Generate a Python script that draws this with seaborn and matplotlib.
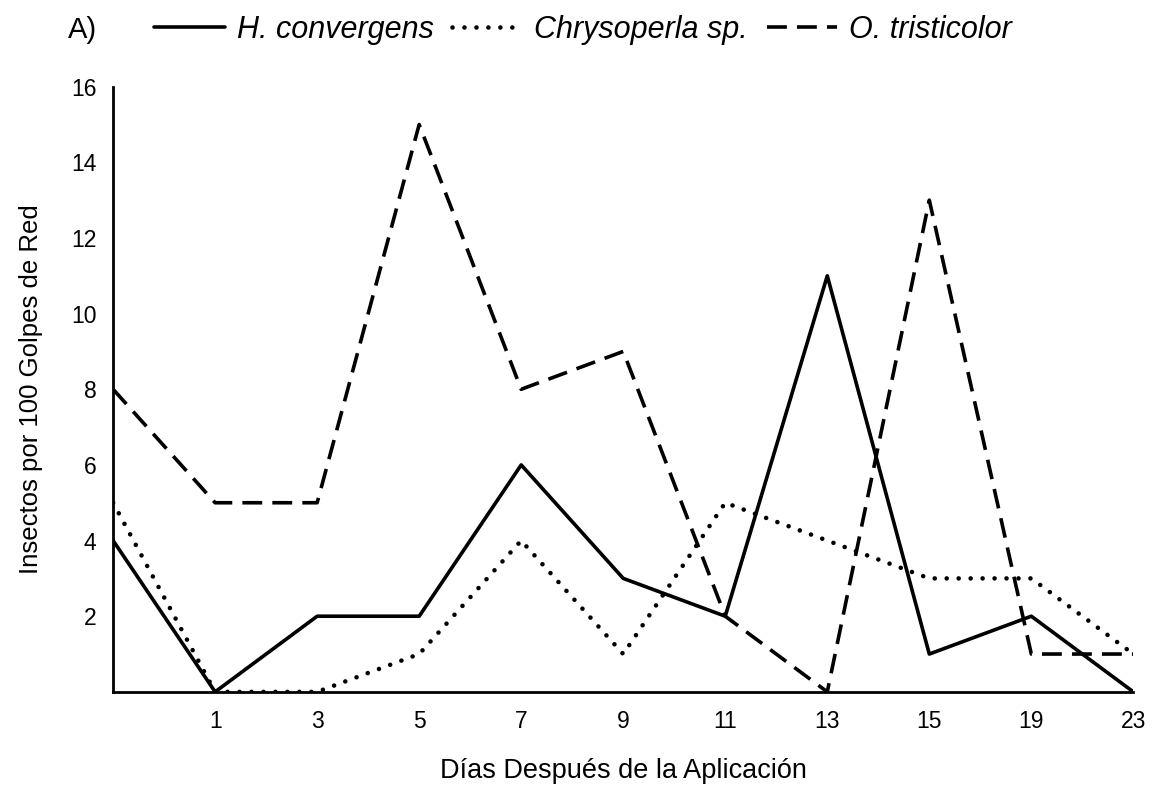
"""
Insectos por 100 golpes de red - dias despues de la aplicacion
"""
import matplotlib
matplotlib.use("Agg")
import matplotlib.pyplot as plt
import seaborn as sns
import pandas as pd

# ---------------------------------------------------------------
# Datos
# ---------------------------------------------------------------
dias = ["0", "1", "3", "5", "7", "9", "11", "13", "15", "19", "23"]
h_convergens = [4, 0, 2, 2, 6, 3, 2, 11, 1, 2, 0]
chrysoperla = [5, 0, 0, 1, 4, 1, 5, 4, 3, 3, 1]
o_tristicolor = [8, 5, 5, 15, 8, 9, 2, 0, 13, 1, 1]

series = {
    "H. convergens": h_convergens,
    "Chrysoperla sp.": chrysoperla,
    "O. tristicolor": o_tristicolor,
}
y_ticks = [2, 4, 6, 8, 10, 12, 14, 16]

sns.set_theme(style="white")
plt.rcParams["font.family"] = ["Liberation Sans", "DejaVu Sans"]
plt.rcParams["text.color"] = "black"
plt.rcParams["axes.labelcolor"] = "black"

fig = plt.figure(figsize=(11.66, 7.88), dpi=100)
ax = fig.add_axes([0.097, 0.122, 0.875, 0.768])

styles = {
    "H. convergens": dict(linestyle="-", linewidth=2.6),
    "Chrysoperla sp.": dict(linestyle=(0, (0.01, 2.6)), dash_capstyle="round",
                            linewidth=3.3),
    "O. tristicolor": dict(linestyle=(0, (5.5, 2.8)), linewidth=2.6),
}

pos = list(range(len(dias)))
for name, vals in series.items():
    df = pd.DataFrame({"pos": pos, "valor": vals})
    sns.lineplot(data=df, x="pos", y="valor", ax=ax, color="black",
                 label=name, **styles[name])

ax.set_xlim(0, len(dias) - 1)
ax.set_ylim(0, 16)
ax.set_xticks(pos[1:])
ax.set_xticklabels(dias[1:])
ax.set_yticks(y_ticks)
ax.tick_params(axis="both", length=0, labelsize=16.5, colors="black")
ax.tick_params(axis="x", pad=13)
ax.tick_params(axis="y", pad=12)

for s in ["top", "right"]:
    ax.spines[s].set_visible(False)
for s in ["left", "bottom"]:
    ax.spines[s].set_color("black")
    ax.spines[s].set_linewidth(2)

ax.set_xlabel("Días Después de la Aplicación", fontsize=19.5, labelpad=18)
ax.set_ylabel("Insectos por 100 Golpes de Red", fontsize=18.5, labelpad=20)

# Leyenda superior
handles, labels = ax.get_legend_handles_labels()
ax.get_legend().remove()
leg = fig.legend(handles, labels, loc="center", bbox_to_anchor=(0.5, 0.962),
                 ncol=3, frameon=False, fontsize=22, handlelength=2.3,
                 handletextpad=0.4, columnspacing=0.6)
for t in leg.get_texts():
    t.set_fontstyle("italic")

fig.text(0.058, 0.962, "A)", fontsize=21, va="center", ha="left")

plt.savefig("out.png", dpi=100)
